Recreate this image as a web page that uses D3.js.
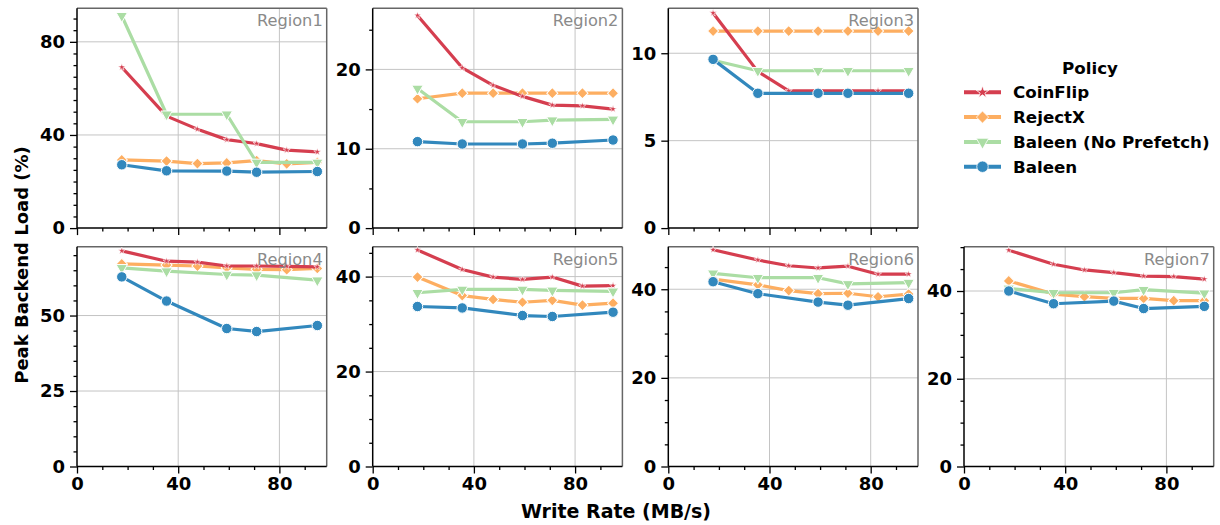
<!DOCTYPE html>
<html><head><meta charset="utf-8">
<script src="https://cdn.jsdelivr.net/npm/d3@7"></script>
<style>html,body{margin:0;padding:0;background:#fff;}svg{display:block;font-family:"DejaVu Sans",sans-serif;}</style>
</head><body>
<svg id="chart" width="1220" height="525"></svg>
<script>
// ---------- data ----------
const regions = ["Region1","Region2","Region3","Region4","Region5","Region6","Region7"];
const policies = ["CoinFlip","RejectX","Baleen (No Prefetch)","Baleen"];
const xFull = [17.7, 35.4, 47.6, 59.2, 71.0, 82.9, 95.0];   // CoinFlip, RejectX
const xShort = [17.7, 35.4, 59.2, 71.0, 95.0];              // Baleen variants
const coinFlip = [
  [69.1, 48.1, 42.5, 38.0, 36.3, 33.5, 32.7],
  [26.8, 20.2, 18.0, 16.6, 15.5, 15.4, 15.0],
  [12.3, 8.95, 7.85, 7.85, 7.85, 7.85, 7.85],
  [71.4, 68.0, 67.7, 66.4, 66.4, 66.3, 66.1],
  [45.6, 41.5, 39.9, 39.4, 39.9, 38.0, 38.1],
  [48.9, 46.6, 45.3, 44.8, 45.2, 43.4, 43.4],
  [49.3, 46.1, 44.8, 44.2, 43.4, 43.3, 42.7]
];
const rejectX = [
  [29.3, 28.8, 27.7, 28.0, 29.0, 27.6, 28.2],
  [16.3, 17.0, 17.0, 17.0, 17.0, 17.0, 17.0],
  [11.27, 11.27, 11.27, 11.27, 11.27, 11.27, 11.27],
  [67.1, 66.7, 66.4, 65.8, 65.3, 65.2, 65.6],
  [39.9, 36.0, 35.2, 34.6, 35.0, 34.0, 34.4],
  [42.3, 41.0, 39.7, 39.0, 39.1, 38.3, 38.9],
  [42.3, 39.3, 38.7, 38.3, 38.3, 37.8, 37.8]
];
const baleenNoPrefetch = [
  [91.2, 48.9, 48.9, 28.2, 28.2],
  [17.6, 13.4, 13.4, 13.6, 13.7],
  [9.6, 9.0, 9.0, 9.0, 9.0],
  [65.8, 64.7, 63.6, 63.4, 61.7],
  [36.6, 37.3, 37.3, 37.1, 36.9],
  [43.6, 42.6, 42.6, 41.2, 41.5],
  [40.6, 39.6, 39.6, 40.3, 39.5]
];
const baleen = [
  [27.2, 24.6, 24.5, 24.0, 24.3],
  [10.9, 10.6, 10.6, 10.7, 11.1],
  [9.65, 7.71, 7.71, 7.71, 7.71],
  [62.8, 54.8, 45.7, 44.7, 46.7],
  [33.7, 33.4, 31.8, 31.6, 32.5],
  [41.7, 39.0, 37.1, 36.4, 37.9],
  [40.0, 37.1, 37.7, 36.0, 36.5]
];
const yMax = [94.4, 27.7, 12.57, 72.8, 46.3, 49.6, 50.1];
const yMajorTicks = [[0,40,80],[0,10,20],[0,5,10],[0,25,50],[0,20,40],[0,20,40],[0,20,40]];
const yMinorStep = [5, 5, 0, 5, 5, 5, 5];
const xMax = 98.7;
const xMajorTicks = [0, 40, 80];
const xMinorTicks = [10, 20, 30, 50, 60, 70, 90];

// ---------- style ----------
const colors = {"CoinFlip":"#d53e4f","RejectX":"#fdae61","Baleen (No Prefetch)":"#abdda4","Baleen":"#3288bd"};
const seriesData = {"CoinFlip":[coinFlip,xFull],"RejectX":[rejectX,xFull],"Baleen (No Prefetch)":[baleenNoPrefetch,xShort],"Baleen":[baleen,xShort]};
const drawOrder = ["RejectX","CoinFlip","Baleen (No Prefetch)","Baleen"];

const svg = d3.select("#chart");
const colLeft = [77, 372.7, 668.3, 964];
const panelW = 249.7;
const rowTop = [8.3, 246.7];
const panelH = 219.8;
const panelPos = [[0,0],[0,1],[0,2],[1,0],[1,1],[1,2],[1,3]];

function markerPath(p, scale) {
  scale = scale || 1;
  if (p === "CoinFlip") return {d: d3.symbol(d3.symbolStar, 16*scale)(), rot: 0};
  if (p === "RejectX") return {d: d3.symbol(d3.symbolSquare, 62*scale)(), rot: 45};
  if (p === "Baleen (No Prefetch)") return {d: d3.symbol(d3.symbolTriangle, 56*scale)(), rot: 180};
  return {d: d3.symbol(d3.symbolCircle, 86*scale)(), rot: 0};
}

regions.forEach((name, i) => {
  const [r, c] = panelPos[i];
  const left = colLeft[c], top = rowTop[r];
  const x = d3.scaleLinear().domain([0, xMax]).range([left, left + panelW]);
  const y = d3.scaleLinear().domain([0, yMax[i]]).range([top + panelH, top]);
  const g = svg.append("g");
  // grid
  g.selectAll(".gx").data(xMajorTicks.filter(t => t > 0)).enter().append("line")
    .attr("x1", d => x(d)).attr("x2", d => x(d)).attr("y1", top).attr("y2", top + panelH)
    .attr("stroke", "#c4c4c4").attr("stroke-width", 1);
  g.selectAll(".gy").data(yMajorTicks[i].filter(t => t > 0)).enter().append("line")
    .attr("y1", d => y(d)).attr("y2", d => y(d)).attr("x1", left).attr("x2", left + panelW)
    .attr("stroke", "#c4c4c4").attr("stroke-width", 1);
  // spines top/right
  g.append("line").attr("x1", left).attr("x2", left + panelW).attr("y1", top).attr("y2", top).attr("stroke", "#666").attr("stroke-width", 1.5);
  g.append("line").attr("x1", left + panelW).attr("x2", left + panelW).attr("y1", top).attr("y2", top + panelH).attr("stroke", "#666").attr("stroke-width", 1.5);
  // axes
  const showXLabels = r === 1;
  const xAxisMaj = d3.axisBottom(x).tickValues(xMajorTicks).tickSize(7).tickPadding(4).tickFormat(showXLabels ? d3.format("d") : () => "");
  const xAxisMin = d3.axisBottom(x).tickValues(xMinorTicks).tickSize(3.5).tickFormat(() => "");
  const gxMin = g.append("g").attr("transform", `translate(0,${top + panelH})`).call(xAxisMin);
  const gxMaj = g.append("g").attr("transform", `translate(0,${top + panelH})`).call(xAxisMaj);
  const yAxisMaj = d3.axisLeft(y).tickValues(yMajorTicks[i]).tickSize(7).tickPadding(5).tickFormat(d3.format("d"));
  const minors = [];
  if (yMinorStep[i] > 0) {
    for (let v = yMinorStep[i]; v <= yMax[i]; v += yMinorStep[i]) if (!yMajorTicks[i].includes(v)) minors.push(v);
  }
  const yAxisMin = d3.axisLeft(y).tickValues(minors).tickSize(3.5).tickFormat(() => "");
  const gyMin = g.append("g").attr("transform", `translate(${left},0)`).call(yAxisMin);
  const gyMaj = g.append("g").attr("transform", `translate(${left},0)`).call(yAxisMaj);
  [gxMin, gxMaj, gyMin, gyMaj].forEach(a => {
    a.select(".domain").attr("stroke", "#000").attr("stroke-width", 1.5);
    a.selectAll(".tick line").attr("stroke", "#000").attr("stroke-width", 1.3);
    a.selectAll(".tick text").attr("font-family", "DejaVu Sans").attr("font-size", 18).attr("font-weight", "bold").attr("fill", "#000");
  });
  gyMin.select(".domain").remove(); gxMin.select(".domain").remove();
  gxMaj.select(".domain").attr("d", `M${left},0H${left + panelW}`);
  gyMaj.select(".domain").attr("d", `M0,${top}V${top + panelH}`);
  // series
  drawOrder.forEach(p => {
    const [arr, xs] = seriesData[p];
    const vals = arr[i].map((v, k) => [xs[k], v]);
    g.append("path").datum(vals)
      .attr("d", d3.line().x(d => x(d[0])).y(d => y(d[1])))
      .attr("fill", "none").attr("stroke", colors[p]).attr("stroke-width", 3.2).attr("stroke-linejoin", "round");
    const m = markerPath(p);
    g.selectAll(null).data(vals).enter().append("path")
      .attr("d", m.d)
      .attr("transform", d => `translate(${x(d[0])},${y(d[1])}) rotate(${m.rot})`)
      .attr("fill", colors[p]).attr("stroke", "#fff").attr("stroke-width", p === "CoinFlip" ? 0.6 : 1);
  });
  // region label
  g.append("text").attr("x", left + panelW - 4).attr("y", top + 18).attr("text-anchor", "end")
    .attr("font-size", 16.2).attr("fill", "#8a8a8a").text(name);
});

// axis labels
svg.append("text").attr("transform", "translate(28,265) rotate(-90)").attr("text-anchor", "middle")
  .attr("font-size", 18).attr("font-weight", "bold").text("Peak Backend Load (%)");
svg.append("text").attr("x", 616).attr("y", 518).attr("text-anchor", "middle")
  .attr("font-size", 19).attr("font-weight", "bold").text("Write Rate (MB/s)");

// legend
const lg = svg.append("g");
lg.append("text").attr("x", 1090).attr("y", 74).attr("text-anchor", "middle")
  .attr("font-size", 16.7).attr("font-weight", "bold").text("Policy");
policies.forEach((p, k) => {
  const cy = 92.3 + k * 24.8;
  lg.append("line").attr("x1", 964).attr("x2", 1001).attr("y1", cy).attr("y2", cy)
    .attr("stroke", colors[p]).attr("stroke-width", 4);
  const m = markerPath(p, p === "CoinFlip" ? 3 : 1.2);
  lg.append("path").attr("d", m.d).attr("transform", `translate(982.5,${cy}) rotate(${m.rot})`)
    .attr("fill", colors[p]).attr("stroke", "#fff").attr("stroke-width", 0.8);
  lg.append("text").attr("x", 1013).attr("y", cy + 6).attr("font-size", 16.7).attr("font-weight", "bold").text(p);
});
</script>
</body></html>
